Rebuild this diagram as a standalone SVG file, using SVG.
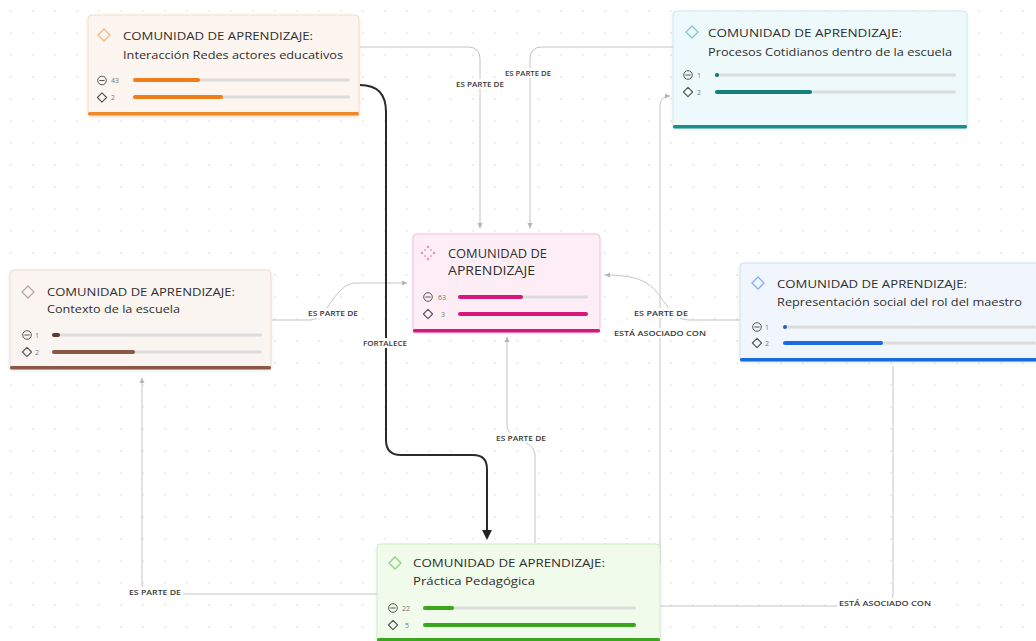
<svg xmlns="http://www.w3.org/2000/svg" width="1036" height="641" viewBox="0 0 1036 641">
  <defs>
    <pattern id="grid" width="22" height="22" patternUnits="userSpaceOnUse">
      <circle cx="11" cy="11" r="0.9" fill="#e6e6e6"/>
    </pattern>
    <filter id="shadow" x="-10%" y="-10%" width="120%" height="130%">
      <feDropShadow dx="0" dy="1" stdDeviation="1.5" flood-color="#000" flood-opacity="0.10"/>
    </filter>
    <marker id="arrow" viewBox="0 0 8 8" refX="7" refY="4" markerWidth="6" markerHeight="6" orient="auto-start-reverse">
      <path d="M0,0.5 L7.5,4 L0,7.5 Z" fill="#b5b5b5"/>
    </marker>
    <marker id="arrow-dark" viewBox="0 0 8 8" refX="6.5" refY="4" markerWidth="5" markerHeight="5" orient="auto">
      <path d="M0,0 L8,4 L0,8 Z" fill="#222"/>
    </marker>
    <symbol id="ic-min" viewBox="-5 -5 10 10" overflow="visible">
      <circle r="4.3" fill="none" stroke="#555" stroke-width="1"/>
      <line x1="-2.6" y1="0" x2="2.6" y2="0" stroke="#555" stroke-width="1"/>
    </symbol>
    <symbol id="ic-dia" viewBox="-5 -5 10 10" overflow="visible">
      <path d="M0,-4.6 L4.6,0 L0,4.6 L-4.6,0 Z" fill="none" stroke="#555" stroke-width="1.1" stroke-linejoin="round"/>
    </symbol>
  </defs>
  <style>
    .card { stroke-width: 1; filter: url(#shadow); }
    .title { font-family: "Open Sans", "Noto Sans", sans-serif; font-size: 11.5px; fill: #2f2f2f; }
    .ctitle { font-family: "Open Sans", "Noto Sans", sans-serif; font-size: 12.5px; fill: #2f2f2f; }
    .num { font-family: "Open Sans", "Noto Sans", sans-serif; font-size: 7px; fill: #777; }
    .track { fill: #dcdcdc; }
    .conn { fill: none; stroke: #c4c4c4; stroke-width: 1; }
    .strong { fill: none; stroke: #2a2a2a; stroke-width: 2; }
    .lbl-bg { fill: #ffffff; }
    .lbl { font-family: "Open Sans", "Noto Sans", sans-serif; font-size: 7px; font-weight: 600; fill: #3a3a3a; text-anchor: middle; }
  </style>

  <rect width="1036" height="641" fill="#ffffff"/>
  <rect width="1036" height="641" fill="url(#grid)"/>

  <!-- connectors -->
  <g id="connectors">
    <path class="conn" d="M360,47 H468 Q480,47 480,59 V228" marker-end="url(#arrow)"/>
    <path class="conn" d="M673,47 H542 Q530,47 530,59 V228" marker-end="url(#arrow)"/>
    <path class="conn" d="M272,320 H310 C328,320 334,283 356,283 H407" marker-end="url(#arrow)"/>
    <path class="strong" d="M360,85 Q386,85 386,112 V440 Q386,455 401,455 H473 Q487,455 487,469 V538" marker-end="url(#arrow-dark)"/>
    <path class="conn" d="M535,543 V455 C535,440 507,440 507,425 V337" marker-end="url(#arrow)"/>
    <path class="conn" d="M651,572 Q660,572 660,562 V106 Q660,96 670,96" marker-end="url(#arrow)"/>
    <path class="conn" d="M740,320 H690 C672,320 666,302 655,290 C646,280 632,275 605,275" marker-end="url(#arrow)"/>
    <path class="conn" d="M377,594 H152 Q142,594 142,584 V378" marker-end="url(#arrow)"/>
    <path class="conn" d="M893,366 V595 Q893,606 882,606 H653" marker-end="url(#arrow)"/>

    <g>
      <rect class="lbl-bg" x="454" y="79" width="52" height="10"/>
      <text class="lbl" x="480" y="86.5" textLength="48" lengthAdjust="spacingAndGlyphs">ES PARTE DE</text>
      <rect class="lbl-bg" x="502" y="68" width="52" height="10"/>
      <text class="lbl" x="528" y="75.5" textLength="46" lengthAdjust="spacingAndGlyphs">ES PARTE DE</text>
      <rect class="lbl-bg" x="306" y="308" width="54" height="10"/>
      <text class="lbl" x="333" y="315.5" textLength="50" lengthAdjust="spacingAndGlyphs">ES PARTE DE</text>
      <rect class="lbl-bg" x="361" y="338" width="48" height="10"/>
      <text class="lbl" x="385" y="345.5" textLength="44" lengthAdjust="spacingAndGlyphs">FORTALECE</text>
      <rect class="lbl-bg" x="495" y="433" width="52" height="10"/>
      <text class="lbl" x="521" y="440.5" textLength="50" lengthAdjust="spacingAndGlyphs">ES PARTE DE</text>
      <rect class="lbl-bg" x="633" y="308" width="56" height="10"/>
      <text class="lbl" x="661" y="315.5" textLength="54" lengthAdjust="spacingAndGlyphs">ES PARTE DE</text>
      <rect class="lbl-bg" x="612" y="328" width="96" height="10"/>
      <text class="lbl" x="660" y="335.5" textLength="92" lengthAdjust="spacingAndGlyphs">ESTÁ ASOCIADO CON</text>
      <rect class="lbl-bg" x="127" y="587" width="56" height="10"/>
      <text class="lbl" x="155" y="594.5" textLength="52" lengthAdjust="spacingAndGlyphs">ES PARTE DE</text>
      <rect class="lbl-bg" x="837" y="598" width="96" height="10"/>
      <text class="lbl" x="885" y="605.5" textLength="92" lengthAdjust="spacingAndGlyphs">ESTÁ ASOCIADO CON</text>
    </g>
  </g>

  <!-- Interacción Redes actores educativos -->
  <g id="node-interaccion">
    <rect class="card" x="88" y="15" width="271" height="101" rx="4" fill="#fdf5ef" stroke="#f7dcc6"/>
    <rect x="88" y="112" width="271" height="3.5" rx="1.5" fill="#ef8a2b"/>
    <path d="M104,29 L110,35 L104,41 L98,35 Z" fill="none" stroke="#f5b887" stroke-width="1.3"/>
    <text class="title" x="123" y="40" textLength="190" lengthAdjust="spacingAndGlyphs">COMUNIDAD DE APRENDIZAJE:</text>
    <text class="title" x="123" y="59" textLength="220" lengthAdjust="spacingAndGlyphs">Interacción Redes actores educativos</text>
    <use href="#ic-min" x="97" y="75.5" width="10" height="10"/>
    <text class="num" x="111" y="83">43</text>
    <rect class="track" x="133" y="78.5" width="217" height="3" rx="1.5"/>
    <rect x="133" y="78" width="67" height="4" rx="2" fill="#ef7d1a"/>
    <use href="#ic-dia" x="97" y="92.5" width="10" height="10"/>
    <text class="num" x="111" y="100">2</text>
    <rect class="track" x="133" y="95.5" width="217" height="3" rx="1.5"/>
    <rect x="133" y="95" width="90" height="4" rx="2" fill="#ef7d1a"/>
  </g>

  <!-- Procesos Cotidianos dentro de la escuela -->
  <g id="node-procesos">
    <rect class="card" x="673" y="11" width="294" height="117" rx="4" fill="#eef9fb" stroke="#cbeaf0"/>
    <rect x="673" y="125" width="294" height="3.5" rx="1.5" fill="#15908a"/>
    <path d="M692,26 L698,32 L692,38 L686,32 Z" fill="none" stroke="#7fc6cf" stroke-width="1.3"/>
    <text class="title" x="708" y="37" textLength="194" lengthAdjust="spacingAndGlyphs">COMUNIDAD DE APRENDIZAJE:</text>
    <text class="title" x="708" y="56" textLength="244" lengthAdjust="spacingAndGlyphs">Procesos Cotidianos dentro de la escuela</text>
    <use href="#ic-min" x="683" y="70" width="10" height="10"/>
    <text class="num" x="697" y="77.5">1</text>
    <rect class="track" x="715" y="73.5" width="241" height="3" rx="1.5"/>
    <rect x="715" y="73" width="4" height="4" rx="2" fill="#13706b"/>
    <use href="#ic-dia" x="683" y="87" width="10" height="10"/>
    <text class="num" x="697" y="94.5">2</text>
    <rect class="track" x="715" y="90.5" width="241" height="3" rx="1.5"/>
    <rect x="715" y="90" width="97" height="4" rx="2" fill="#13807a"/>
  </g>

  <!-- Comunidad de aprendizaje (central) -->
  <g id="node-comunidad">
    <rect class="card" x="413" y="234" width="187" height="98" rx="4" fill="#fdeef6" stroke="#f5c0dc"/>
    <rect x="413" y="329" width="187" height="3.5" rx="1.5" fill="#d9177a"/>
    <g fill="#ee8fbf">
      <circle cx="428" cy="247" r="1.3"/>
      <circle cx="434" cy="253" r="1.3"/>
      <circle cx="428" cy="259" r="1.3"/>
      <circle cx="422" cy="253" r="1.3"/>
      <circle cx="431" cy="250" r="0.9"/>
      <circle cx="431" cy="256" r="0.9"/>
      <circle cx="425" cy="256" r="0.9"/>
      <circle cx="425" cy="250" r="0.9"/>
    </g>
    <text class="ctitle" x="448" y="258" textLength="99" lengthAdjust="spacingAndGlyphs">COMUNIDAD DE</text>
    <text class="ctitle" x="448" y="275" textLength="87" lengthAdjust="spacingAndGlyphs">APRENDIZAJE</text>
    <use href="#ic-min" x="423" y="292" width="10" height="10"/>
    <text class="num" x="438" y="299.5">63</text>
    <rect class="track" x="458" y="295.5" width="130" height="3" rx="1.5"/>
    <rect x="458" y="295" width="65" height="4" rx="2" fill="#d9177a"/>
    <use href="#ic-dia" x="423" y="309" width="10" height="10"/>
    <text class="num" x="441" y="316.5">3</text>
    <rect x="458" y="312" width="130" height="4" rx="2" fill="#d9177a"/>
  </g>

  <!-- Contexto de la escuela -->
  <g id="node-contexto">
    <rect class="card" x="10" y="270" width="261" height="99" rx="4" fill="#fbf5f2" stroke="#ecdcd3"/>
    <rect x="10" y="366" width="261" height="3.5" rx="1.5" fill="#8b5846"/>
    <path d="M28,286 L34,292 L28,298 L22,292 Z" fill="none" stroke="#b9a8a2" stroke-width="1.3"/>
    <text class="title" x="47" y="296" textLength="188" lengthAdjust="spacingAndGlyphs">COMUNIDAD DE APRENDIZAJE:</text>
    <text class="title" x="47" y="313" textLength="133" lengthAdjust="spacingAndGlyphs">Contexto de la escuela</text>
    <use href="#ic-min" x="22" y="330" width="10" height="10"/>
    <text class="num" x="35" y="337.5">1</text>
    <rect class="track" x="52" y="333.5" width="210" height="3" rx="1.5"/>
    <rect x="52" y="333" width="8" height="4" rx="2" fill="#5a3b30"/>
    <use href="#ic-dia" x="22" y="347" width="10" height="10"/>
    <text class="num" x="35" y="354.5">2</text>
    <rect class="track" x="52" y="350.5" width="210" height="3" rx="1.5"/>
    <rect x="52" y="350" width="83" height="4" rx="2" fill="#8b5846"/>
  </g>

  <!-- Representación social del rol del maestro -->
  <g id="node-representacion">
    <rect class="card" x="740" y="263" width="305" height="98" rx="4" fill="#f1f6fd" stroke="#cfe0f6"/>
    <rect x="740" y="358" width="305" height="3.5" rx="1.5" fill="#1a6be0"/>
    <path d="M758,277 L764,283 L758,289 L752,283 Z" fill="none" stroke="#86aff0" stroke-width="1.3"/>
    <text class="title" x="777" y="288" textLength="190" lengthAdjust="spacingAndGlyphs">COMUNIDAD DE APRENDIZAJE:</text>
    <text class="title" x="777" y="306" textLength="245" lengthAdjust="spacingAndGlyphs">Representación social del rol del maestro</text>
    <use href="#ic-min" x="752" y="322" width="10" height="10"/>
    <text class="num" x="765" y="329.5">1</text>
    <rect class="track" x="783" y="325.5" width="253" height="3" rx="1.5"/>
    <rect x="783" y="325" width="4" height="4" rx="2" fill="#2a5fb8"/>
    <use href="#ic-dia" x="752" y="338" width="10" height="10"/>
    <text class="num" x="765" y="345.5">2</text>
    <rect class="track" x="783" y="341.5" width="253" height="3" rx="1.5"/>
    <rect x="783" y="341" width="100" height="4" rx="2" fill="#1a6be0"/>
  </g>

  <!-- Práctica Pedagógica -->
  <g id="node-practica">
    <rect class="card" x="377" y="544" width="283" height="100" rx="4" fill="#f1fbec" stroke="#cdeebe"/>
    <rect x="377" y="638" width="283" height="3.5" rx="1.5" fill="#3aa61f"/>
    <path d="M395,557 L401,563 L395,569 L389,563 Z" fill="none" stroke="#93cf7c" stroke-width="1.3"/>
    <text class="title" x="413" y="567" textLength="192" lengthAdjust="spacingAndGlyphs">COMUNIDAD DE APRENDIZAJE:</text>
    <text class="title" x="413" y="585" textLength="122" lengthAdjust="spacingAndGlyphs">Práctica Pedagógica</text>
    <use href="#ic-min" x="388" y="603" width="10" height="10"/>
    <text class="num" x="402" y="610.5">22</text>
    <rect class="track" x="423" y="606.5" width="213" height="3" rx="1.5"/>
    <rect x="423" y="606" width="31" height="4" rx="2" fill="#3aa61f"/>
    <use href="#ic-dia" x="388" y="620" width="10" height="10"/>
    <text class="num" x="405" y="627.5">5</text>
    <rect x="423" y="623" width="213" height="4" rx="2" fill="#3aa61f"/>
  </g>
</svg>
